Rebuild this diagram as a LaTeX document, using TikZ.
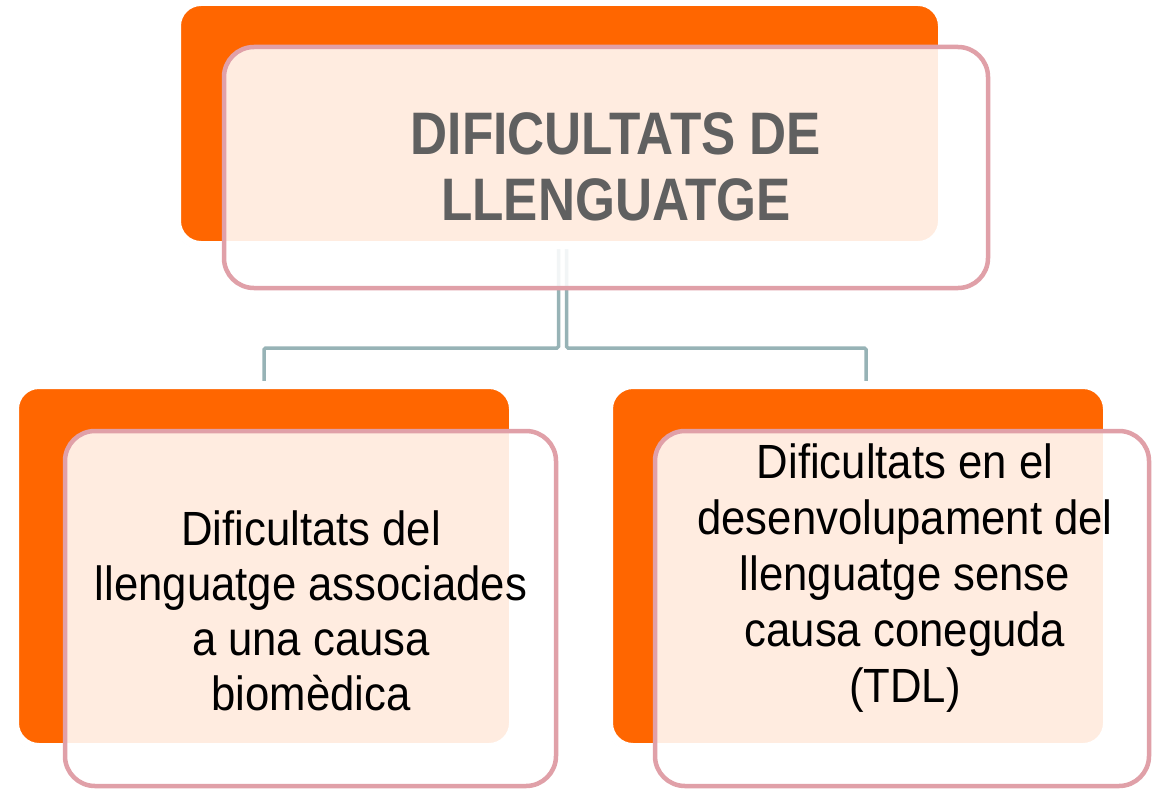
\documentclass[tikz,border=0pt]{standalone}
\usepackage{fontspec}
\setmainfont{Liberation Sans}
\newfontfamily\bodyfont[FakeStretch=0.91]{Liberation Sans}
\newfontfamily\headfont[FakeStretch=0.855]{Liberation Sans}
\usetikzlibrary{shadows,backgrounds}
\definecolor{orng}{HTML}{FF6600}
\definecolor{pinkline}{HTML}{E0A0A8}
\definecolor{connc}{HTML}{97B3B6}
\definecolor{titlegray}{HTML}{606060}
\begin{document}
\begin{tikzpicture}[x=1pt,y=-1pt,
  obox/.style={rectangle, rounded corners=24pt, fill=orng, draw=white, line width=8pt,
    inner sep=0pt, outer sep=0pt,
    drop shadow={shadow xshift=-1.5pt, shadow yshift=-3pt, opacity=0.13}},
  pbox/.style={rectangle, rounded corners=30pt, draw=pinkline, line width=4.5pt,
    fill=white, fill opacity=0.88, draw opacity=1, text opacity=1, inner sep=0pt, outer sep=0pt},
  conn/.style={draw=connc, line width=3.5pt, rounded corners=1.5pt},
  titletext/.style={font=\headfont\bfseries\fontsize{60}{66}\selectfont, text=titlegray, align=center},
  bodytext/.style={font=\bodyfont\fontsize{48}{56}\selectfont, text=black, align=center}]
\begin{scope}[on background layer]
\fill[white] (0,0) rectangle (1153,792);
\end{scope}
\useasboundingbox (0,0) rectangle (1153,792);
% top unit
\node[obox, minimum width=765pt, minimum height=243pt] (topO) at (559.5,123.5) {};
\node[pbox, minimum width=764pt, minimum height=241pt] (topP) at (606,167.5) {};
\node[titletext] (title) at (616,167) {DIFICULTATS DE\\LLENGUATGE};
% left unit
\node[obox, minimum width=498pt, minimum height=362pt] (leftO) at (264,566) {};
\node[pbox, minimum width=491pt, minimum height=355pt] (leftP) at (310.5,608.5) {};
\node[bodytext, font=\bodyfont\fontsize{48}{55}\selectfont] (leftT) at (311,611) {Dificultats del\\llenguatge associades\\a una causa\\biomèdica};
% right unit
\node[obox, minimum width=498pt, minimum height=362pt] (rightO) at (858,566) {};
\node[pbox, minimum width=494pt, minimum height=355pt] (rightP) at (902,608.5) {};
\node[bodytext] (rightT) at (905,578) {Dificultats en el\\desenvolupament del\\llenguatge sense\\causa coneguda\\(TDL)};
% connectors behind everything
\begin{scope}[on background layer]
\draw[conn] ([xshift=-1pt]topO.south) |- ([yshift=37pt]leftO.north) -- (leftO.north);
\draw[conn] ([xshift=7pt]topO.south) |- ([xshift=8pt,yshift=37pt]rightO.north) -- ([xshift=8pt]rightO.north);
\end{scope}
\end{tikzpicture}
\end{document}
